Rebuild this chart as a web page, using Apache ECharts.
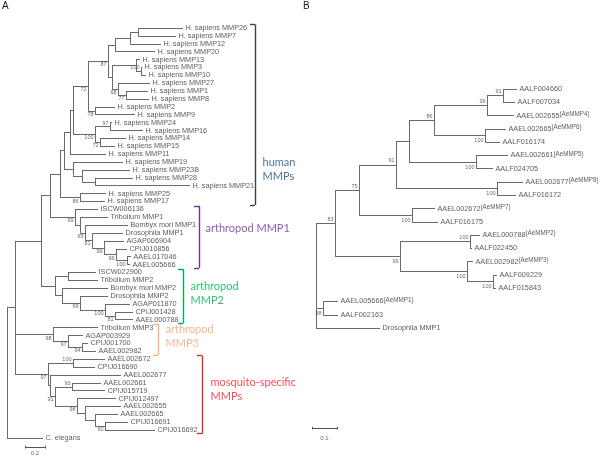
<!DOCTYPE html>
<html><head><meta charset="utf-8">
<script src="https://cdn.jsdelivr.net/npm/echarts/dist/echarts.min.js"></script>
<style>html,body{margin:0;padding:0;background:#fff}#c{width:600px;height:456px}</style>
</head><body><div id="c"></div>
<script>
// ---------------- Panel A data ----------------
const leavesA = ["H. sapiens MMP26","H. sapiens MMP7","H. sapiens MMP12","H. sapiens MMP20","H. sapiens MMP13","H. sapiens MMP3","H. sapiens MMP10","H. sapiens MMP27","H. sapiens MMP1","H. sapiens MMP8","H. sapiens MMP2","H. sapiens MMP9","H. sapiens MMP24","H. sapiens MMP16","H. sapiens MMP14","H. sapiens MMP15","H. sapiens MMP11","H. sapiens MMP19","H. sapiens MMP23B","H. sapiens MMP28","H. sapiens MMP21","H. sapiens MMP25","H. sapiens MMP17","ISCW006136","Tribolium MMP1","Bombyx mori MMP1","Drosophila MMP1","AGAP006904","CPIJ010856","AAEL017046","AAEL005666","ISCW022900","Tribolium MMP2","Bombyx mori MMP2","Drosophila MMP2","AGAP011870","CPIJ001428","AAEL000788","Tribolium MMP3","AGAP003929","CPIJ001700","AAEL002982","AAEL002672","CPIJ016690","AAEL002677","AAEL002661","CPIJ015719","CPIJ012497","AAEL002655","AAEL002665","CPIJ016691","CPIJ016692","C. elegans"];
// tip depth from root (substitutions per site)
const tipA = [1.76,1.69,1.54,1.48,1.33,1.35,1.39,1.43,1.41,1.42,1.08,1.28,1.05,1.36,1.19,1.08,0.99,1.16,1.23,1.26,1.83,0.99,0.98,0.91,1.01,1.21,1.16,1.17,1.20,1.24,1.23,0.89,0.91,1.01,1.01,1.23,1.26,1.26,0.91,0.76,0.81,0.89,0.98,0.88,1.14,0.94,0.98,1.09,1.14,1.11,1.21,1.48,0.36];
// internal nodes: [id, depth, bootstrap, children (leaf index or node id)...]
const nodesA = [
  ["x3",1.31,"",0,1],["x2",1.23,"","x3",2],["x1",1.08,"","x2",3],
  ["y100",1.34,"100",5,6],["y1",1.29,"",4,"y100"],["y77",1.19,"77",8,9],["y68",1.11,"68",7,"y77"],
  ["y",1.05,"","y1","y68"],["n87",1.01,"87","x1","y"],["n78",0.88,"78",10,11],["n72",0.81,"72","n87","n78"],
  ["n97",1.03,"97",12,13],["n72b",0.93,"72",14,15],["n100",0.88,"100","n97","n72b"],
  ["hd",0.66,"","n72","n100"],["hb",0.63,"","hd",16],
  ["hc3",0.88,"",19,20],["hc2",0.75,"",18,"hc3"],["hc",0.66,"",17,"hc2"],["ha",0.57,"","hb","hc"],
  ["n86",0.73,"86",21,22],["h0",0.53,"","ha","n86"],
  ["am6",1.20,"100",29,30],["am5",1.09,"96",28,"am6"],["am4",0.97,"99",27,"am5"],["am3",0.85,"81",26,"am4"],
  ["am2",0.78,"65",25,"am3"],["am1",0.73,"",24,"am2"],["am0",0.68,"99",23,"am1"],["ha0",0.43,"","h0","am0"],
  ["m2a",0.61,"",31,32],["m81",1.08,"81",36,37],["m100",0.98,"100",35,"m81"],["m69",0.73,"69",34,"m100"],
  ["m2b",0.55,"",33,"m69"],["m2",0.48,"","m2a","m2b"],["i2",0.34,"","ha0","m2"],
  ["m3c",0.75,"94",40,41],["m3b",0.61,"97",39,"m3c"],["m3",0.46,"98",38,"m3b"],
  ["ms6",0.98,"60",50,51],["ms5",0.88,"",49,"ms6"],["ms4",0.78,"",48,"ms5"],["ms3",0.70,"98",47,"ms4"],
  ["n93",0.65,"93",45,46],["ms2",0.48,"91","n93","ms3"],["ms1",0.43,"",44,"ms2"],
  ["n100ms",0.66,"100",42,43],["ms0",0.41,"97","n100ms","ms1"],
  ["i1",0.08,"","i2","m3","ms0"],["rootA",0,"","i1",52]
];
const groupNamesA = ["human\nMMPs","arthropod MMP1","arthropod\nMMP2","arthropod\nMMP3","mosquito-specific\nMMPs"];
const groupFirstA = [0,23,31,38,42];
const groupLastA = [22,30,37,41,51];
const scaleA = 0.2;

// ---------------- Panel B data ----------------
const leavesB = ["AALF004660","AALF007034","AAEL002655","AAEL002665","AALF016174","AAEL002661","AALF024705","AAEL002677","AALF016172","AAEL002672","AALF016175","AAEL000788","AALF022450","AAEL002982","AALF009229","AALF015843","AAEL005666","AALF002163","Drosophila MMP1"];
const aliasB = ["","","(AeMMP4)","(AeMMP6)","","(AeMMP5)","","(AeMMP8)","","(AeMMP7)","","(AeMMP2)","","(AeMMP3)","","","(AeMMP1)","",""];
const tipB = [0.804,0.796,0.792,0.760,0.736,0.768,0.708,0.828,0.800,0.476,0.488,0.656,0.624,0.628,0.724,0.720,0.088,0.088,0.256];
const nodesB = [
  ["b503",0.748,"91",0,1],["b487",0.684,"99","b503",2],["b485",0.676,"100",3,4],["b434",0.472,"86","b487","b485"],
  ["b476",0.640,"100",5,6],["b409",0.372,"","b434","b476"],["b497",0.724,"100",7,8],["b396",0.320,"91","b409","b497"],
  ["b412",0.384,"100",9,10],["b359",0.172,"75","b396","b412"],
  ["b470",0.616,"100",11,12],["b493",0.708,"100",14,15],["b467",0.604,"100",13,"b493"],["b400",0.336,"99","b470","b467"],
  ["b335",0.076,"83","b359","b400"],["b323",0.028,"88",16,17],["rootB",0,"","b335","b323",18]
];
const scaleB = 0.1;

// ---------------- layout / style (not data) ----------------
const LA = {rootPx:7, unitPx:100, leaf0:28, leafPx:7.885, xMax:3.0, yMin:-1, yMax:54};
const LB = {rootPx:316, unitPx:250, leaf0:89, leafPx:13.28, xMax:1.1, yMin:-1, yMax:27};
const bootAboveA = ["y100","n100ms","n93","n97"];
const bootAboveB = ["b503","b487","b434","b396","b359","b470","b335"];
const groupStyleA = [
  {x:2.48, line:"#404040", text:"#1f4e79", tx:2.55, ty:18.0},
  {x:1.92, line:"#7030a0", text:"#7030a0", tx:1.98, ty:25.4},
  {x:1.76, line:"#00b050", text:"#00b050", tx:1.83, ty:33.7},
  {x:1.51, line:"#f4b183", text:"#f4a46e", tx:1.58, ty:39.1},
  {x:1.95, line:"#e8262b", text:"#e8262b", tx:2.03, ty:45.9}
];
const scaleBarA = {x0:0.18, y:53.15, ty:53.95};
const scaleBarB = {x0:-0.016, y:25.53, ty:26.3};
const TREE = "#6a6a6a", TXT = "#333333", FONT = "Liberation Sans, Arial, sans-serif";

function buildTree(tips, nodes) {
  const byId = {}; nodes.forEach(n => byId[n[0]] = n);
  const pos = {};
  function get(ref) {
    if (typeof ref === "number") return {x: tips[ref], y: ref};
    if (pos[ref]) return pos[ref];
    const n = byId[ref];
    const ch = n.slice(3).map(get);
    const p = {id: ref, x: n[1], y: (ch[0].y + ch[ch.length-1].y) / 2, ch, boot: n[2]};
    pos[ref] = p; return p;
  }
  nodes.forEach(n => get(n[0]));
  const segs = [], boots = [];
  Object.values(pos).forEach(p => {
    segs.push([[p.x, p.ch[0].y], [p.x, p.ch[p.ch.length-1].y]]);
    p.ch.forEach(c => segs.push([[p.x, c.y], [c.x, c.y]]));
    if (p.boot) boots.push({id: p.id, x: p.x, y: p.y, t: p.boot});
  });
  return {segs, boots};
}

const TA = buildTree(tipA, nodesA);
const TB = buildTree(tipB, nodesB);

function gridOf(L) {
  return {left: L.rootPx, top: L.leaf0 + L.yMin*L.leafPx, width: L.xMax*L.unitPx,
          height: (L.yMax - L.yMin)*L.leafPx, containLabel: false, show: false};
}
function axesOf(L, i) {
  return {
    x: {type:"value", gridIndex:i, min:0, max:L.xMax, show:false},
    y: {type:"value", gridIndex:i, min:L.yMin, max:L.yMax, inverse:true, show:false}
  };
}
const axA = axesOf(LA, 0), axB = axesOf(LB, 1);

function linesSeries(i, segs, color, width) {
  return {type:"lines", coordinateSystem:"cartesian2d", xAxisIndex:i, yAxisIndex:i, polyline:false,
    silent:true, animation:false, clip:false, symbol:"none",
    lineStyle:{color, width, opacity:1, curveness:0},
    data: segs.map(s => ({coords: s}))};
}
function textSeries(i, items, labelOpt) {
  return {type:"scatter", xAxisIndex:i, yAxisIndex:i, silent:true, animation:false, clip:false,
    symbolSize:1, itemStyle:{color:"rgba(0,0,0,0)"},
    label: Object.assign({show:true, fontFamily:FONT}, labelOpt),
    data: items};
}

const series = [];
// Panel A
series.push(linesSeries(0, TA.segs, TREE, 1));
series.push(textSeries(0, tipA.map((t,i)=>({value:[t,i], label:{formatter: leavesA[i]}})),
  {position:"right", distance:2, fontSize:7.3, color:TXT}));
series.push(textSeries(0, TA.boots.map(b=>({value:[b.x,b.y], label:{formatter:b.t, offset:[0, bootAboveA.includes(b.id)?-3.5:3.5]}})),
  {position:"left", distance:1, fontSize:5.5, color:"#444"}));
// group brackets
groupNamesA.forEach((g,k)=>{
  const s = groupStyleA[k], y0 = groupFirstA[k]-0.45, y1 = groupLastA[k]+0.45;
  series.push(linesSeries(0, [[[s.x,y0],[s.x,y1]],[[s.x-0.05,y0],[s.x,y0]],[[s.x-0.05,y1],[s.x,y1]]], s.line, 1.4));
  series.push(textSeries(0, [{value:[s.tx, s.ty], label:{formatter:g}}],
    {position:"right", distance:0, fontSize:11, lineHeight:14, color:s.text, fontFamily:"Lato, Open Sans, sans-serif", align:"left"}));
});
// scale bar A
series.push(linesSeries(0, [[[scaleBarA.x0,scaleBarA.y],[scaleBarA.x0+scaleA,scaleBarA.y]],
  [[scaleBarA.x0,scaleBarA.y-0.18],[scaleBarA.x0,scaleBarA.y+0.18]],
  [[scaleBarA.x0+scaleA,scaleBarA.y-0.18],[scaleBarA.x0+scaleA,scaleBarA.y+0.18]]], "#555", 1));
series.push(textSeries(0, [{value:[scaleBarA.x0+scaleA/2, scaleBarA.ty], label:{formatter:String(scaleA)}}],
  {position:"inside", fontSize:6, color:"#444"}));

// Panel B
series.push(linesSeries(1, TB.segs, TREE, 1));
series.push(textSeries(1, tipB.map((t,i)=>({value:[t,i], label:{formatter: "{n|"+leavesB[i]+"}" + (aliasB[i]?"{s|"+aliasB[i]+"}":"")}})),
  {position:"right", distance:2, color:TXT,
   rich:{n:{fontSize:7.3, color:TXT, fontFamily:FONT, lineHeight:9, verticalAlign:"middle"},
         s:{fontSize:6.3, color:TXT, fontFamily:FONT, lineHeight:9, verticalAlign:"top"}}}));
series.push(textSeries(1, TB.boots.map(b=>({value:[b.x,b.y], label:{formatter:b.t, offset:[0, bootAboveB.includes(b.id)?-4:5]}})),
  {position:"left", distance:1, fontSize:5.5, color:"#444"}));
series.push(linesSeries(1, [[[scaleBarB.x0,scaleBarB.y],[scaleBarB.x0+scaleB,scaleBarB.y]],
  [[scaleBarB.x0,scaleBarB.y-0.1],[scaleBarB.x0,scaleBarB.y+0.1]],
  [[scaleBarB.x0+scaleB,scaleBarB.y-0.1],[scaleBarB.x0+scaleB,scaleBarB.y+0.1]]], "#555", 1));
series.push(textSeries(1, [{value:[scaleBarB.x0+scaleB/2, scaleBarB.ty], label:{formatter:String(scaleB)}}],
  {position:"inside", fontSize:6, color:"#444"}));

const chart = echarts.init(document.getElementById("c"), null, {renderer:"canvas"});
chart.setOption({
  backgroundColor:"#fff",
  animation:false,
  title:[
    {text:"A", left:2, top:1, padding:0, textStyle:{fontSize:10, fontWeight:"normal", color:"#222", fontFamily:FONT}},
    {text:"B", left:303, top:1, padding:0, textStyle:{fontSize:10, fontWeight:"normal", color:"#222", fontFamily:FONT}}
  ],
  grid:[gridOf(LA), gridOf(LB)],
  xAxis:[axA.x, axB.x],
  yAxis:[axA.y, axB.y],
  series
});
</script></body></html>
